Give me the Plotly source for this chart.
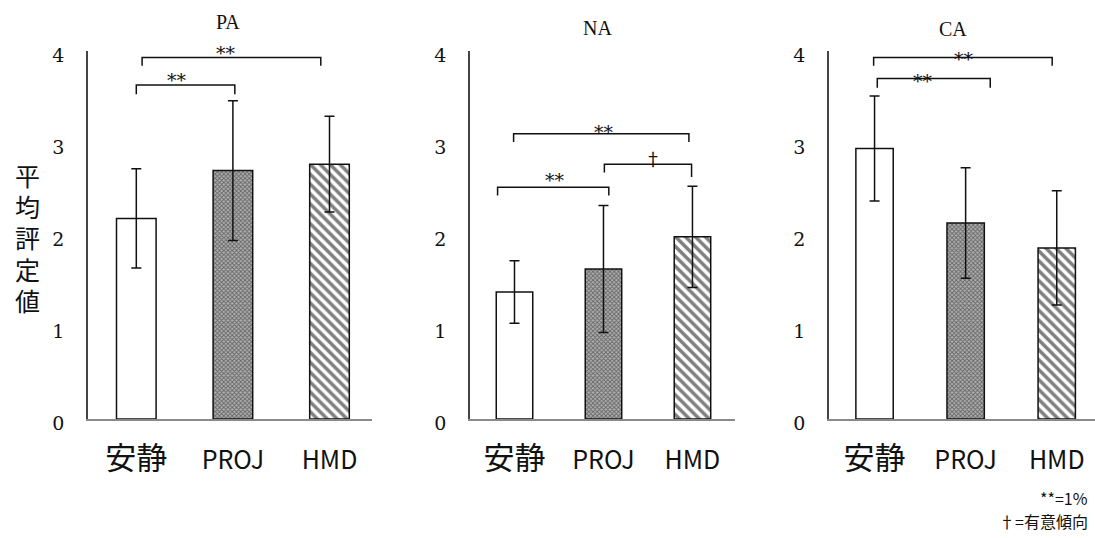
import plotly.graph_objects as go

# ---------------- data ----------------
categories = ["安静", "PROJ", "HMD"]
panel_titles = ["PA", "NA", "CA"]
pa_mean = [2.18, 2.70, 2.77]
pa_sd = [0.54, 0.76, 0.52]
na_mean = [1.38, 1.63, 1.98]
na_sd = [0.34, 0.69, 0.55]
ca_mean = [2.94, 2.13, 1.86]
ca_sd = [0.57, 0.60, 0.62]
y_ticks = [0, 1, 2, 3, 4]
y_axis_title = "平均評定値"
notes = ["**=1%", "†=有意傾向"]

means = [pa_mean, na_mean, ca_mean]
sds = [pa_sd, na_sd, ca_sd]

# significance brackets per panel: (x_left, x_right, y_bar, y_leg_left, y_leg_right, label, label_x, label_y)
brackets = [
    [(0.0, 1.02, 3.63, 3.53, 3.53, "**", 0.42, 3.74),
     (0.06, 1.91, 3.93, 3.84, 3.84, "**", 0.93, 4.03)],
    [(-0.19, 1.06, 2.52, 2.43, 2.43, "**", 0.46, 2.65),
     (1.01, 1.99, 2.77, 2.68, 2.63, "†", 1.56, 2.84),
     (-0.01, 1.96, 3.10, 3.01, 3.01, "**", 1.01, 3.17)],
    [(0.03, 1.27, 3.70, 3.60, 3.60, "**", 0.53, 3.73),
     (-0.01, 1.95, 3.93, 3.84, 3.84, "**", 0.98, 3.97)],
]

W, H = 1095, 538
TOP, BOT = 51, 419          # pixel rows of the plot area
Y_MAX = 4


def px_x(px):
    return px / W


def px_y(py):
    return (BOT - py) / (BOT - TOP)


x_domains = [[88 / W, 372 / W], [470 / W, 735 / W], [829 / W, 1.0]]
x_ranges = [[-0.5, 2.44], [-0.5, 2.478], [-0.5, 2.42]]
title_pos = [(228, 22), (597, 28), (953, 29)]

serif = "DejaVu Serif, Liberation Serif, serif"
serif2 = "Liberation Serif, DejaVu Serif, serif"
sans_jp = "Noto Sans CJK JP, Noto Sans, sans-serif"

patterns = [
    dict(shape=""),
    dict(shape="x", size=3, solidity=0.5, fgcolor="#1a1a1a", bgcolor="#b0b0b0"),
    dict(shape="\\", size=7, solidity=0.5, fgcolor="#000000", bgcolor="#ffffff"),
]


def tick_label(c):
    if any(ord(ch) > 0x3000 for ch in c):
        return f'<span style="font-size:31px">{c}</span>'
    return c


tick_text = [tick_label(c) for c in categories]

fig = go.Figure()
shapes = []
annotations = []

for p in range(3):
    xa = "x" if p == 0 else f"x{p+1}"
    ya = "y" if p == 0 else f"y{p+1}"
    for i, cat in enumerate(categories):
        fig.add_trace(go.Bar(
            x=[i], y=[means[p][i]],
            xaxis=xa, yaxis=ya,
            width=0.41,
            marker=dict(color="white", line=dict(color="#111111", width=1.5),
                        pattern=patterns[i]),
            error_y=dict(type="data", array=[sds[p][i]], visible=True,
                         color="#111111", thickness=1.5, width=5),
            showlegend=False, hoverinfo="skip",
        ))
    sfx = "" if p == 0 else str(p + 1)
    fig.layout[f"xaxis{sfx}"] = dict(
        domain=x_domains[p], range=x_ranges[p],
        tickvals=list(range(len(categories))), ticktext=tick_text,
        showline=True, linecolor="#8a8a8a", linewidth=2,
        ticks="", showgrid=False, zeroline=False,
        tickfont=dict(family=sans_jp, size=25, color="#111111"),
        ticklabelstandoff=18, anchor=ya,
    )
    fig.layout[f"yaxis{sfx}"] = dict(
        domain=[0, 1], range=[0, Y_MAX], tickvals=y_ticks,
        showline=True, linecolor="#444444", linewidth=1.5,
        ticks="", showgrid=False, zeroline=False,
        tickfont=dict(family=serif, size=19, color="#111111"),
        ticklabelstandoff=18, ticklabelshift=4, anchor=xa,
    )
    tx, ty = title_pos[p]
    annotations.append(dict(text=panel_titles[p], x=px_x(tx), y=px_y(ty), xref="paper", yref="paper",
                            showarrow=False, xanchor="center", yanchor="middle",
                            font=dict(family=serif2, size=20, color="#111111")))
    for (x0, x1, yb, yl0, yl1, lab, lx, ly) in brackets[p]:
        shapes.append(dict(type="path", xref=xa, yref=ya,
                           path=f"M {x0},{yl0} L {x0},{yb} L {x1},{yb} L {x1},{yl1}",
                           line=dict(color="#111111", width=1.5)))
        is_star = "*" in lab
        # y given in paper units of the (full-height) panel so labels above the range stay visible
        annotations.append(dict(text=lab, x=lx, y=ly / Y_MAX, xref=xa, yref="paper", showarrow=False,
                                xanchor="center", yanchor="middle", yshift=-5 if is_star else 0,
                                font=dict(family=serif if is_star else sans_jp,
                                          size=19 if is_star else 18, color="#111111")))

# vertical y-axis title (stacked characters, one text block)
vert = "<br>".join(f'<span style="font-size:25px">{ch}</span>' for ch in y_axis_title)
annotations.append(dict(text=vert, x=px_x(27), y=px_y(237), xref="paper", yref="paper",
                        showarrow=False, xanchor="center", yanchor="middle",
                        font=dict(family=sans_jp, size=24, color="#111111")))

# notes
for k, t in enumerate(notes):
    annotations.append(dict(text=t, x=px_x(1090), y=px_y(498 + 23 * k), xref="paper", yref="paper",
                            showarrow=False, xanchor="right", yanchor="middle",
                            font=dict(family=sans_jp, size=16, color="#111111")))

fig.update_layout(
    width=W, height=H,
    margin=dict(l=0, r=0, t=TOP, b=H - BOT),
    paper_bgcolor="white", plot_bgcolor="white",
    shapes=shapes, annotations=annotations,
)

fig.write_html("out.html")
